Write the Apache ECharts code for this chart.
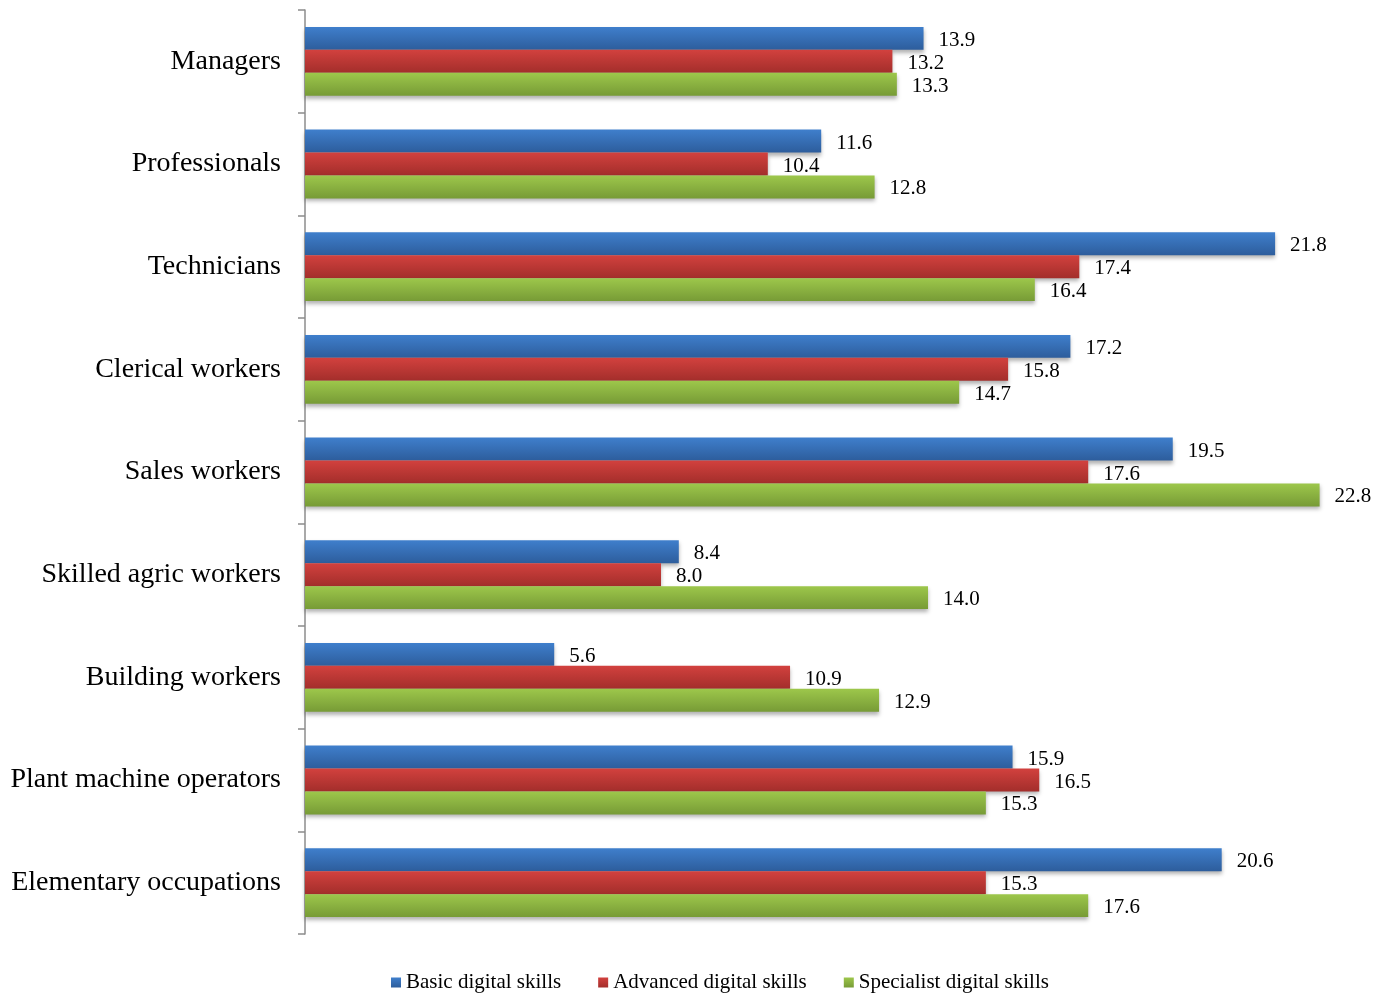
<!DOCTYPE html>
<html>
<head>
<meta charset="utf-8">
<script src="https://cdn.jsdelivr.net/npm/echarts@6/dist/echarts.min.js"></script>
<style>
html,body{margin:0;padding:0;background:#fff;}
#chart{width:1376px;height:995px;}
</style>
</head>
<body>
<div id="chart"></div>
<script>
const categories = ["Managers","Professionals","Technicians","Clerical workers","Sales workers","Skilled agric workers","Building workers","Plant machine operators","Elementary occupations"];
const basicValues = [13.9,11.6,21.8,17.2,19.5,8.4,5.6,15.9,20.6];
const advancedValues = [13.2,10.4,17.4,15.8,17.6,8.0,10.9,16.5,15.3];
const specialistValues = [13.3,12.8,16.4,14.7,22.8,14.0,12.9,15.3,17.6];
const seriesNames = ["Basic digital skills","Advanced digital skills","Specialist digital skills"];

const FONT = '"Liberation Serif","Times New Roman",serif';

function grad(top, bottom){
  return new echarts.graphic.LinearGradient(0,0,0,1,[{offset:0,color:top},{offset:1,color:bottom}]);
}
const colors = [grad('#3f7fcc','#2d5d9c'), grad('#d2413e','#a32e2b'), grad('#9dc74b','#779b36')];

function mk(name, data, color){
  return {
    name: name,
    type: 'bar',
    data: data,
    barGap: '0%',
    barCategoryGap: '33%',
    itemStyle: {color: color, shadowBlur: 4, shadowOffsetY: 3, shadowColor: 'rgba(0,0,0,0.3)'},
    label: {show: true, position: 'right', distance: 15, offset: [0, 2], color: '#000', fontFamily: FONT, fontSize: 21,
      formatter: p => p.value.toFixed(1)}
  };
}

const chart = echarts.init(document.getElementById('chart'));
chart.setOption({
  animation: false,
  backgroundColor: '#fff',
  grid: {left: 305, top: 10, width: 1068, height: 924, containLabel: false},
  xAxis: {type: 'value', min: 0, max: 24, show: false},
  yAxis: {
    type: 'category', data: categories, inverse: true,
    axisLine: {show: true, lineStyle: {color: '#8c8c8c', width: 1.5}},
    axisTick: {show: true, length: 7, lineStyle: {color: '#8c8c8c', width: 1.5}},
    axisLabel: {color: '#000', fontFamily: FONT, fontSize: 28, margin: 24, padding: [4, 0, 0, 0]}
  },
  legend: {
    top: 967, left: 386, icon: 'rect', itemWidth: 10, itemHeight: 10, itemGap: 37,
    textStyle: {fontFamily: FONT, fontSize: 21, color: '#000'},
    data: seriesNames
  },
  series: [
    mk(seriesNames[0], basicValues, colors[0]),
    mk(seriesNames[1], advancedValues, colors[1]),
    mk(seriesNames[2], specialistValues, colors[2])
  ]
});
</script>
</body>
</html>
